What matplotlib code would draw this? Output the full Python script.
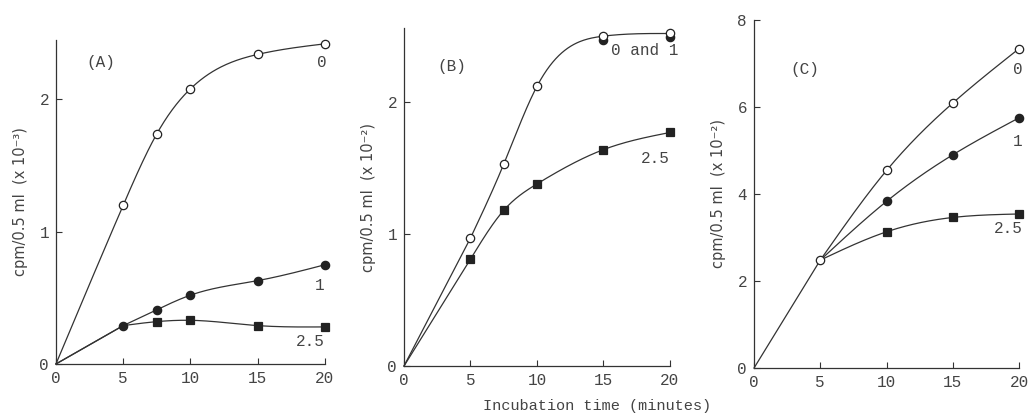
import numpy as np
import matplotlib
matplotlib.use('Agg')
import matplotlib.pyplot as plt

# Значения (время инкубации, мин)
a_x = [0, 5, 7.5, 10, 15, 20]
a_zero = [0, 1.20, 1.74, 2.08, 2.34, 2.42]
a_one = [0, 0.29, 0.41, 0.52, 0.63, 0.75]
a_half = [0, 0.29, 0.32, 0.33, 0.29, 0.28]

b_x = [0, 5, 7.5, 10, 15, 20]
b_zero = [0, 0.97, 1.53, 2.12, 2.50, 2.52]
b_one_x = [15, 20]
b_one = [2.47, 2.49]
b_half = [0, 0.81, 1.18, 1.38, 1.64, 1.77]

c_x0 = [0, 5, 10, 15, 20]
c_zero = [0, 2.48, 4.54, 6.09, 7.34]
c_x1 = [5, 10, 15, 20]
c_one = [2.48, 3.83, 4.90, 5.75]
c_half = [2.48, 3.13, 3.46, 3.54]

x_ticks = [0, 5, 10, 15, 20]

INK = '#333333'
TXT = '#444444'
MONO = 'Liberation Mono'


def smooth(x, y, n=200):
    # натуральный кубический сплайн через точки, только для отрисовки линии
    x = np.asarray(x, float)
    y = np.asarray(y, float)
    k = len(x)
    h = np.diff(x)
    A = np.zeros((k, k))
    r = np.zeros(k)
    A[0, 0] = A[-1, -1] = 1
    for i in range(1, k - 1):
        A[i, i - 1] = h[i - 1]
        A[i, i] = 2 * (h[i - 1] + h[i])
        A[i, i + 1] = h[i]
        r[i] = 6 * ((y[i + 1] - y[i]) / h[i] - (y[i] - y[i - 1]) / h[i - 1])
    M = np.linalg.solve(A, r)
    xs = np.linspace(x[0], x[-1], n)
    j = np.clip(np.searchsorted(x, xs) - 1, 0, k - 2)
    t0 = x[j + 1] - xs
    t1 = xs - x[j]
    hj = h[j]
    ys = (M[j] * t0 ** 3 + M[j + 1] * t1 ** 3) / (6 * hj) \
        + (y[j] / hj - M[j] * hj / 6) * t0 + (y[j + 1] / hj - M[j + 1] * hj / 6) * t1
    return xs, ys


def curve(ax, x, y, marker, fill, start=1, line=True, kink=False):
    if line:
        if kink:
            # прямой участок от нуля до первой точки, дальше плавно
            ax.plot(x[:2], y[:2], color=INK, lw=0.9, zorder=2, clip_on=False)
            xs, ys = smooth(x[1:], y[1:])
        else:
            xs, ys = smooth(x, y)
        ax.plot(xs, ys, color=INK, lw=0.9, zorder=2, clip_on=False)
    ax.plot(x[start:], y[start:], ls='none', marker=marker, ms=6 if marker == 'o' else 5.5,
            mfc=fill, mec='#222222', mew=0.9, zorder=3, clip_on=False)


def style(ax, ymax, yticks, ylabel):
    ax.set_xlim(0, 20)
    ax.set_ylim(0, ymax)
    for s in ['top', 'right']:
        ax.spines[s].set_visible(False)
    for s in ['left', 'bottom']:
        ax.spines[s].set_color(INK)
        ax.spines[s].set_linewidth(0.9)
    ax.set_xticks(x_ticks)
    ax.set_yticks(yticks)
    ax.tick_params(direction='in', length=4, width=0.8, color=INK, labelcolor=TXT,
                   labelsize=11.5, pad=5)
    for lab in ax.get_xticklabels() + ax.get_yticklabels():
        lab.set_family(MONO)
    ax.set_ylabel(ylabel, fontsize=10.5, color=TXT, labelpad=8)


def note(ax, x, y, s):
    ax.text(x, y, s, family=MONO, fontsize=11.5, color=TXT, ha='center', va='center')


fig = plt.figure(figsize=(10.29, 4.15), dpi=100)

# (A)
ax = fig.add_axes([0.0544, 0.123, 0.2614, 0.781])
curve(ax, a_x, a_zero, 'o', 'white')
curve(ax, a_x, a_half, 's', '#222222', start=2, kink=True)
curve(ax, a_x, a_one, 'o', '#222222', kink=True)
style(ax, 2.45, [0, 1, 2], 'cpm/0.5 ml  (x 10⁻³)')
note(ax, 3.3, 2.28, '(A)')
note(ax, 19.8, 2.28, '0')
note(ax, 19.6, 0.59, '1')
note(ax, 18.9, 0.17, '2.5')

# (B)
ax = fig.add_axes([0.3926, 0.118, 0.2585, 0.814])
curve(ax, b_one_x, b_one, 'o', '#222222', start=0, line=False)
curve(ax, b_x, b_zero, 'o', 'white', kink=True)
curve(ax, b_x, b_half, 's', '#222222', kink=True)
style(ax, 2.56, [0, 1, 2], 'cpm/0.5 ml  (x 10⁻²)')
note(ax, 3.6, 2.27, '(B)')
note(ax, 18.1, 2.39, '0 and 1')
note(ax, 18.9, 1.57, '2.5')

# (C)
ax = fig.add_axes([0.7328, 0.1133, 0.2575, 0.8386])
curve(ax, c_x1, c_half, 's', '#222222')
curve(ax, c_x1, c_one, 'o', '#222222')
curve(ax, c_x0, c_zero, 'o', 'white', kink=True)
style(ax, 8, [0, 2, 4, 6, 8], 'cpm/0.5 ml  (x 10⁻²)')
note(ax, 3.85, 6.87, '(C)')
note(ax, 19.9, 6.85, '0')
note(ax, 19.9, 5.2, '1')
note(ax, 19.2, 3.2, '2.5')

fig.text(0.58, 0.022, 'Incubation time (minutes)', family=MONO, fontsize=11,
         color=TXT, ha='center', va='center')

fig.savefig('out.png', dpi=100)
